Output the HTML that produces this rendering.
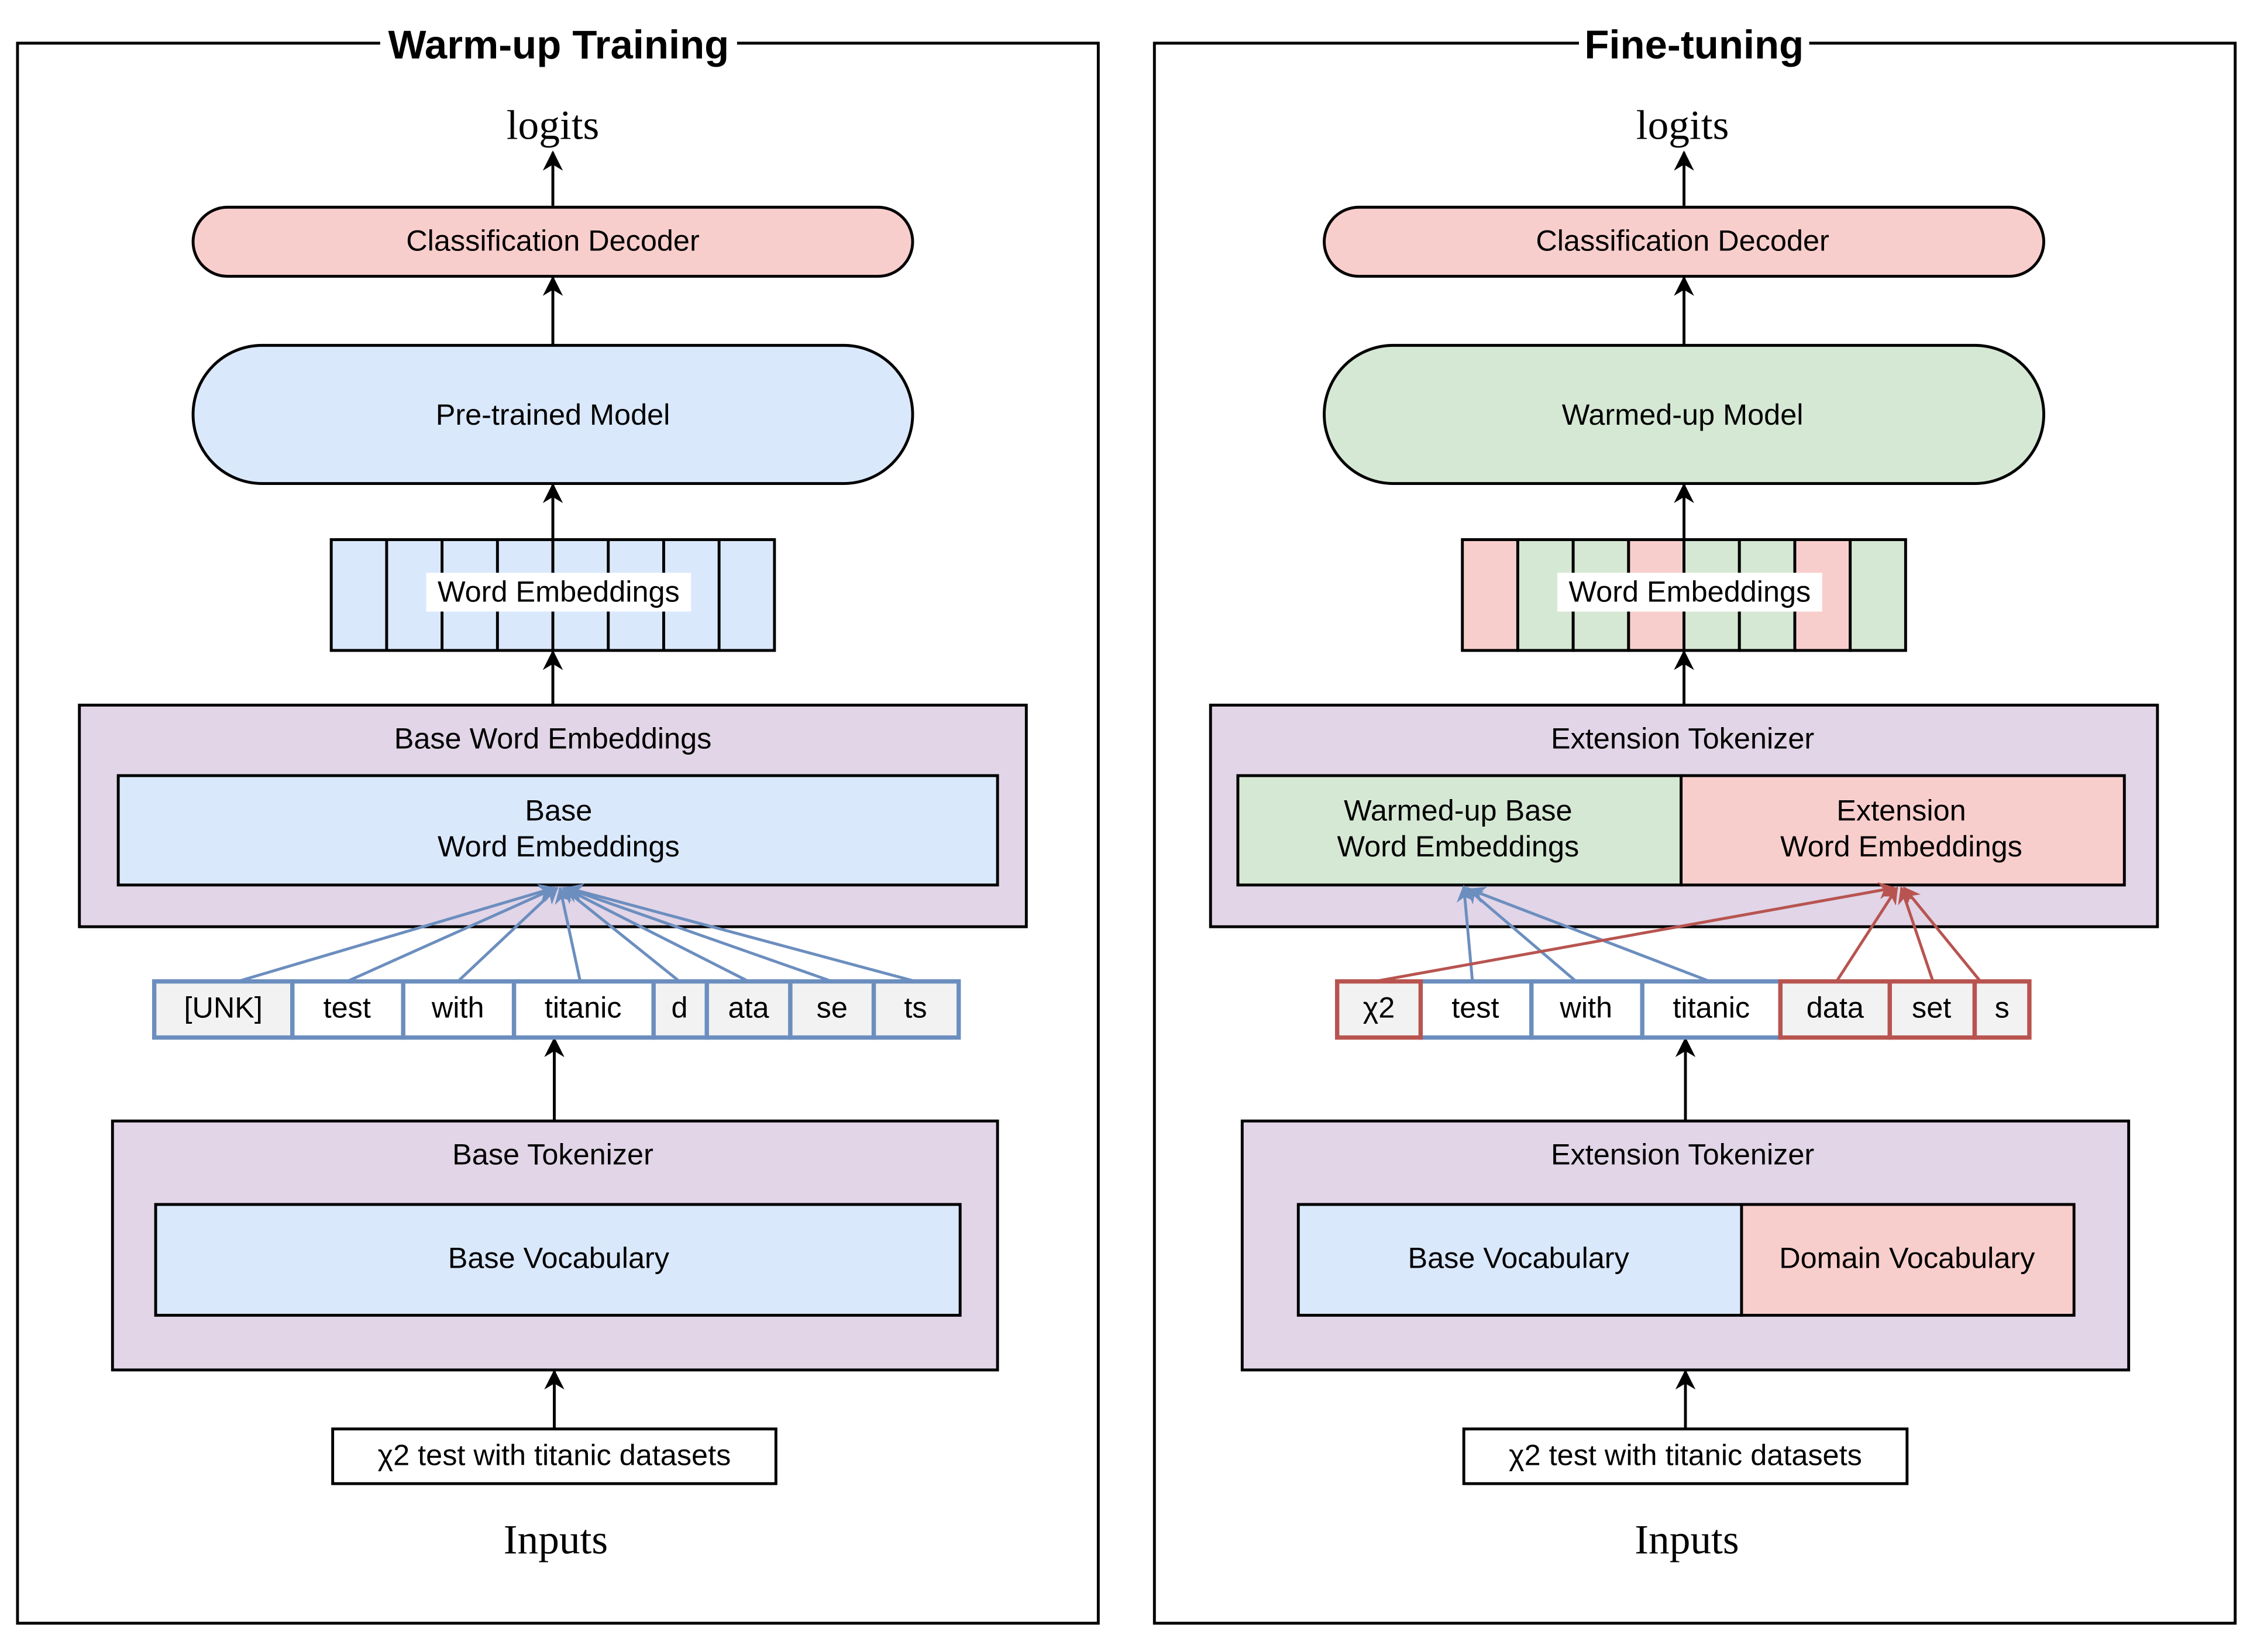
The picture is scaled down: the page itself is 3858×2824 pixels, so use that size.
<!DOCTYPE html>
<html><head><meta charset="utf-8"><style>
html,body{margin:0;padding:0;background:#fff}
svg{display:block}
text{font-family:"Liberation Sans","DejaVu Sans",sans-serif;font-size:20.5px;fill:#000;text-anchor:middle;dominant-baseline:central}
.serif{font-family:"Liberation Serif",serif;font-size:29px}
.title{font-weight:bold;font-size:28px}
</style></head><body>
<svg width="3858" height="2824" viewBox="0 0 1568 1148" xmlns="http://www.w3.org/2000/svg">
<defs>
<marker id="ak" viewBox="0 0 10 10" refX="9" refY="5" markerWidth="16" markerHeight="14" orient="auto" markerUnits="userSpaceOnUse"><path d="M0,0 L10,5 L0,10 L3,5z" fill="#000"/></marker>
<marker id="ab" viewBox="0 0 10 10" refX="9" refY="5" markerWidth="12" markerHeight="12" orient="auto" markerUnits="userSpaceOnUse"><path d="M0,0 L10,5 L0,10 L3,5z" fill="#6c8ebf"/></marker>
<marker id="ar" viewBox="0 0 10 10" refX="9" refY="5" markerWidth="12" markerHeight="12" orient="auto" markerUnits="userSpaceOnUse"><path d="M0,0 L10,5 L0,10 L3,5z" fill="#b85450"/></marker>
</defs>
<g fill="none" stroke="#000" stroke-width="2">
<rect x="12" y="30" width="751" height="1098"/>
<rect x="802" y="30" width="751" height="1098"/>
</g>
<rect x="264" y="14" width="248" height="34" fill="#fff"/>
<text x="388" y="31" class="title">Warm-up Training</text>
<rect x="1097" y="14" width="160" height="34" fill="#fff"/>
<text x="1177" y="31" class="title">Fine-tuning</text>

<!-- LEFT -->
<g stroke="#000" stroke-width="2">
<text x="384" y="87" class="serif" stroke="none">logits</text>
<line x1="384" y1="143" x2="384" y2="106" marker-end="url(#ak)"/>
<rect x="134" y="144" width="500" height="48" rx="24" fill="#f8cecc"/>
<line x1="384" y1="240" x2="384" y2="193" marker-end="url(#ak)"/>
<rect x="134" y="240" width="500" height="96" rx="48" fill="#dae8fc"/>
<rect x="230" y="375" width="308" height="77" fill="#dae8fc"/>
<line x1="268.5" y1="375" x2="268.5" y2="452"/><line x1="307" y1="375" x2="307" y2="452"/><line x1="345.5" y1="375" x2="345.5" y2="452"/><line x1="384" y1="375" x2="384" y2="452"/><line x1="422.5" y1="375" x2="422.5" y2="452"/><line x1="461" y1="375" x2="461" y2="452"/><line x1="499.5" y1="375" x2="499.5" y2="452"/>
<line x1="384" y1="400" x2="384" y2="337" marker-end="url(#ak)"/>
<line x1="384" y1="490" x2="384" y2="453" marker-end="url(#ak)"/>
<rect x="55" y="490" width="658" height="154" fill="#e1d5e7"/>
<rect x="82" y="539" width="611" height="76" fill="#dae8fc"/>
<rect x="78" y="779" width="615" height="173" fill="#e1d5e7"/>
<rect x="108" y="837" width="559" height="77" fill="#dae8fc"/>
<line x1="385" y1="779" x2="385" y2="722" marker-end="url(#ak)"/>
<line x1="385" y1="993" x2="385" y2="953" marker-end="url(#ak)"/>
<rect x="231" y="993" width="308" height="38" fill="#fff"/>
</g>
<text x="384" y="167">Classification Decoder</text>
<text x="384" y="288">Pre-trained Model</text>
<rect x="296" y="398" width="184" height="27" fill="#fff"/>
<text x="388" y="411">Word Embeddings</text>
<text x="384" y="513">Base Word Embeddings</text>
<text x="388" y="563">Base</text>
<text x="388" y="588">Word Embeddings</text>
<text x="384" y="802">Base Tokenizer</text>
<text x="388" y="874">Base Vocabulary</text>
<text x="385" y="1011">χ2 test with titanic datasets</text>
<text x="386" y="1070" class="serif">Inputs</text>
<g stroke="#6c8ebf" stroke-width="2" marker-end="url(#ab)">
<line x1="165" y1="682" x2="385" y2="617"/>
<line x1="241" y1="682" x2="386" y2="617"/>
<line x1="318" y1="682" x2="387" y2="617"/>
<line x1="403" y1="682" x2="389" y2="617"/>
<line x1="472" y1="682" x2="391" y2="617"/>
<line x1="520" y1="682" x2="392" y2="617"/>
<line x1="578" y1="682" x2="393" y2="617"/>
<line x1="636" y1="682" x2="394" y2="617"/>
</g>
<g stroke="#6c8ebf" stroke-width="3">
<rect x="107" y="682" width="96" height="39" fill="#f2f2f2"/>
<rect x="203" y="682" width="77" height="39" fill="#fff"/>
<rect x="280" y="682" width="77" height="39" fill="#fff"/>
<rect x="357" y="682" width="97" height="39" fill="#fff"/>
<rect x="454" y="682" width="37" height="39" fill="#f2f2f2"/>
<rect x="491" y="682" width="58" height="39" fill="#f2f2f2"/>
<rect x="549" y="682" width="58" height="39" fill="#f2f2f2"/>
<rect x="607" y="682" width="59" height="39" fill="#f2f2f2"/>
</g>
<text x="155" y="700">[UNK]</text><text x="241" y="700">test</text><text x="318" y="700">with</text><text x="405" y="700">titanic</text><text x="472" y="700">d</text><text x="520" y="700">ata</text><text x="578" y="700">se</text><text x="636" y="700">ts</text>

<!-- RIGHT -->
<g stroke="#000" stroke-width="2">
<text x="1169" y="87" class="serif" stroke="none">logits</text>
<line x1="1170" y1="143" x2="1170" y2="106" marker-end="url(#ak)"/>
<rect x="920" y="144" width="500" height="48" rx="24" fill="#f8cecc"/>
<line x1="1170" y1="240" x2="1170" y2="193" marker-end="url(#ak)"/>
<rect x="920" y="240" width="500" height="96" rx="48" fill="#d5e8d4"/>
<rect x="1016" y="375" width="38.5" height="77" fill="#f8cecc"/>
<rect x="1054.5" y="375" width="38.5" height="77" fill="#d5e8d4"/>
<rect x="1093" y="375" width="38.5" height="77" fill="#d5e8d4"/>
<rect x="1131.5" y="375" width="38.5" height="77" fill="#f8cecc"/>
<rect x="1170" y="375" width="38.5" height="77" fill="#d5e8d4"/>
<rect x="1208.5" y="375" width="38.5" height="77" fill="#d5e8d4"/>
<rect x="1247" y="375" width="38.5" height="77" fill="#f8cecc"/>
<rect x="1285.5" y="375" width="38.5" height="77" fill="#d5e8d4"/>
<line x1="1170" y1="400" x2="1170" y2="337" marker-end="url(#ak)"/>
<line x1="1170" y1="490" x2="1170" y2="453" marker-end="url(#ak)"/>
<rect x="841" y="490" width="658" height="154" fill="#e1d5e7"/>
<rect x="860" y="539" width="308" height="76" fill="#d5e8d4"/>
<rect x="1168" y="539" width="308" height="76" fill="#f8cecc"/>
<rect x="863" y="779" width="616" height="173" fill="#e1d5e7"/>
<rect x="902" y="837" width="308" height="77" fill="#dae8fc"/>
<rect x="1210" y="837" width="231" height="77" fill="#f8cecc"/>
<line x1="1171" y1="779" x2="1171" y2="722" marker-end="url(#ak)"/>
<line x1="1171" y1="993" x2="1171" y2="953" marker-end="url(#ak)"/>
<rect x="1017" y="993" width="308" height="38" fill="#fff"/>
</g>
<text x="1169" y="167">Classification Decoder</text>
<text x="1169" y="288">Warmed-up Model</text>
<rect x="1082" y="398" width="184" height="27" fill="#fff"/>
<text x="1174" y="411">Word Embeddings</text>
<text x="1169" y="513">Extension Tokenizer</text>
<text x="1013" y="563">Warmed-up Base</text>
<text x="1013" y="588">Word Embeddings</text>
<text x="1321" y="563">Extension</text>
<text x="1321" y="588">Word Embeddings</text>
<text x="1169" y="802">Extension Tokenizer</text>
<text x="1055" y="874">Base Vocabulary</text>
<text x="1325" y="874">Domain Vocabulary</text>
<text x="1171" y="1011">χ2 test with titanic datasets</text>
<text x="1172" y="1070" class="serif">Inputs</text>
<g stroke="#6c8ebf" stroke-width="2" marker-end="url(#ab)">
<line x1="1023" y1="682" x2="1017" y2="616"/>
<line x1="1095" y1="682" x2="1019" y2="617"/>
<line x1="1188" y1="682" x2="1021" y2="618"/>
</g>
<g stroke="#b85450" stroke-width="2" marker-end="url(#ar)">
<line x1="955" y1="682" x2="1316" y2="617"/>
<line x1="1276" y1="682" x2="1318" y2="617"/>
<line x1="1343" y1="682" x2="1321" y2="617"/>
<line x1="1376" y1="682" x2="1323" y2="617"/>
</g>
<g stroke-width="3">
<rect x="987" y="682" width="77" height="39" fill="#fff" stroke="#6c8ebf"/>
<rect x="1064" y="682" width="77" height="39" fill="#fff" stroke="#6c8ebf"/>
<rect x="1141" y="682" width="96" height="39" fill="#fff" stroke="#6c8ebf"/>
<rect x="929" y="682" width="58" height="39" fill="#f2f2f2" stroke="#b85450"/>
<rect x="1237" y="682" width="76" height="39" fill="#f2f2f2" stroke="#b85450"/>
<rect x="1313" y="682" width="59" height="39" fill="#f2f2f2" stroke="#b85450"/>
<rect x="1372" y="682" width="38" height="39" fill="#f2f2f2" stroke="#b85450"/>
</g>
<text x="958" y="700">χ2</text><text x="1025" y="700">test</text><text x="1102" y="700">with</text><text x="1189" y="700">titanic</text><text x="1275" y="700">data</text><text x="1342" y="700">set</text><text x="1391" y="700">s</text>
</svg>
</body></html>
